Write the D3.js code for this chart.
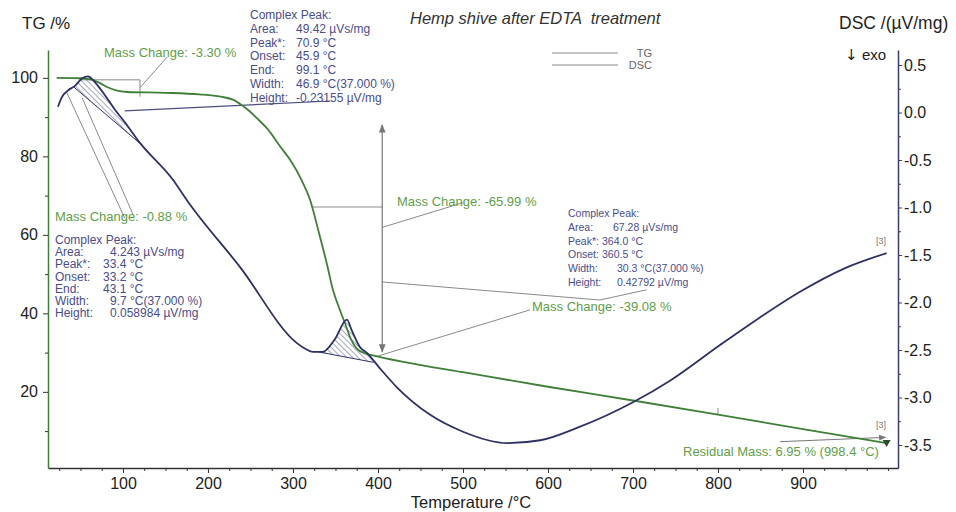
<!DOCTYPE html>
<html><head><meta charset="utf-8">
<script src="https://cdn.jsdelivr.net/npm/d3@7"></script>
<style>
body{margin:0;background:#fff}
svg{display:block;font-family:"Liberation Sans",Arial,sans-serif}
</style>
</head><body>
<svg id="c" width="956" height="512"></svg>
<script>
// ---------- data ----------
const tgTemps  = [22, 50, 62, 72, 82, 92, 105, 150, 190, 215, 230, 240, 250, 260, 270, 285, 297, 310, 320, 330, 340, 347, 355, 361, 368, 375, 385, 400, 449, 500, 600, 700, 800, 900, 998.4];
const tgValues = [100, 99.9, 99.6, 98.8, 97.6, 96.8, 96.4, 96.2, 95.8, 95.2, 94.4, 93, 91.3, 89.2, 87, 82.5, 79, 74, 69, 61, 52.5, 46, 41, 37.6, 33.5, 31, 29.8, 29, 26.9, 25, 21.3, 17.8, 14.2, 10.5, 6.95];

const dscTemps  = [23.5, 28, 35, 43.5, 52, 59, 65, 70.6, 79, 90.6, 102, 120, 159, 175, 238, 305, 315, 323.5, 335, 349, 363.5, 369, 379, 387, 402, 422, 461, 500, 552, 591, 637, 700, 744, 802, 849, 896, 949, 998.4];
const dscValues = [0.06, 0.16, 0.23, 0.28, 0.36, 0.38, 0.34, 0.28, 0.18, 0.03, -0.10, -0.32, -0.71, -0.92, -1.63, -2.43, -2.49, -2.52, -2.52, -2.39, -2.18, -2.29, -2.47, -2.53, -2.69, -2.89, -3.18, -3.36, -3.48, -3.45, -3.31, -3.05, -2.82, -2.45, -2.16, -1.89, -1.64, -1.48];

const xTicks   = [100, 200, 300, 400, 500, 600, 700, 800, 900];
const xMinor   = [25,50,75,125,150,175,225,250,275,325,350,375,425,450,475,525,550,575,625,650,675,725,750,775,825,850,875,925,950,975,1000];
const tgTicks  = [20, 40, 60, 80, 100];
const tgMinor  = [10, 30, 50, 70, 90];
const dscTicks = [0.5, 0.0, -0.5, -1.0, -1.5, -2.0, -2.5, -3.0, -3.5];
const dscMinor = [0.25, -0.25, -0.75, -1.25, -1.75, -2.25, -2.75, -3.25];

// peak baselines (T, µV/mg)
const peak1Base = [[42, 0.27], [122, -0.34]];
const peak2Base = [[330, -2.52], [395, -2.63]];

// evaluation guide lines (T, TG %)
const bracket1   = [[49, 99.5], [120, 99.5], [120, 95.2]];
const leader1    = [[120, 97.5], [152, 105.3]];
const heightLine = [[102, 91.6], [344, 94.1]];
const lowLeaderA = [[34, 96.2], [102, 64.3]];
const lowLeaderB = [[52, 94.9], [112, 65.1]];
const stepArrow  = [[405, 88], [405, 30.2]];
const midLine    = [[322, 67.1], [405, 67.1]];
const leader2    = [[405, 61.9], [500, 68.2]];
const leaderPeak = [[405, 48], [661, 43.4], [716, 46]];
const leader3    = [[396.5, 28.9], [579, 40.9]];
const leaderRes  = [[873, 7.3], [997, 8.4]];
const tgMark     = [[800, 14.2], [800, 15.9]];

const topPeakLabels = ["Complex Peak:", "Area:", "Peak*:", "Onset:", "End:", "Width:", "Height:"];
const topPeakValues = ["", "49.42 µVs/mg", "70.9 °C", "45.9 °C", "99.1 °C", "46.9 °C(37.000 %)", "-0.23155 µV/mg"];
const lowPeakLabels = ["Complex Peak:", "Area:", "Peak*:", "Onset:", "End:", "Width:", "Height:"];
const lowPeakValues = ["", "4.243 µVs/mg", "33.4 °C", "33.2 °C", "43.1 °C", "9.7 °C(37.000 %)", "0.058984 µV/mg"];
const midPeakLabels = ["Complex Peak:", "Area:", "Peak*:", "Onset:", "Width:", "Height:"];
const midPeakValues = ["", "67.28 µVs/mg", "364.0 °C", "360.5 °C", "30.3 °C(37.000 %)", "0.42792 µV/mg"];

// ---------- drawing ----------
const svg = d3.select("#c");
const GREEN = "#3f7f37", GREEN_TXT = "#5f9e48", NAVY = "#2e3162", NAVY_TXT = "#4a4d88", GRAY = "#8a8a8a";

const x    = d3.scaleLinear().domain([11.8, 1011.8]).range([48, 898]);
const yTG  = d3.scaleLinear().domain([0.6, 107.1]).range([468, 50]);
const yDSC = d3.scaleLinear().domain([-3.742, 0.658]).range([468, 50]);

const defs = svg.append("defs");
const pat = defs.append("pattern").attr("id", "hatch").attr("patternUnits", "userSpaceOnUse")
  .attr("width", 4).attr("height", 4).attr("patternTransform", "rotate(-45)");
pat.append("line").attr("x1", 0).attr("y1", 0).attr("x2", 0).attr("y2", 4)
  .attr("stroke", "#4a4f8c").attr("stroke-width", 1);
function marker(id, color) {
  defs.append("marker").attr("id", id).attr("viewBox", "0 0 10 10").attr("refX", 9).attr("refY", 5)
    .attr("markerWidth", 7).attr("markerHeight", 7).attr("orient", "auto-start-reverse")
    .append("path").attr("d", "M0,1L10,5L0,9z").attr("fill", color);
}
marker("arr", "#777");

// axes
function styleAxis(g, color) {
  g.selectAll("text").attr("font-size", 16).attr("fill", "#222").attr("font-family", "Liberation Sans, Arial, sans-serif");
  g.selectAll("line").attr("stroke", color);
  g.select(".domain").attr("stroke", color).attr("stroke-width", 1.5);
}
const gx = svg.append("g").attr("transform", "translate(0,468)")
  .call(d3.axisBottom(x).tickValues(xTicks).tickSize(5).tickSizeOuter(0).tickPadding(5).tickFormat(d => d));
styleAxis(gx, "#333");
const gxm = svg.append("g").attr("transform", "translate(0,468)")
  .call(d3.axisBottom(x).tickValues(xMinor).tickSize(3).tickSizeOuter(0).tickFormat(""));
gxm.select(".domain").remove(); gxm.selectAll("line").attr("stroke", "#333");

const gl = svg.append("g").attr("transform", "translate(48,0)")
  .call(d3.axisLeft(yTG).tickValues(tgTicks).tickSize(5).tickSizeOuter(0).tickPadding(5).tickFormat(d => d));
styleAxis(gl, GREEN);
gl.selectAll(".tick line").attr("stroke", "#333");
const glm = svg.append("g").attr("transform", "translate(48,0)")
  .call(d3.axisLeft(yTG).tickValues(tgMinor).tickSize(3).tickFormat(""));
glm.select(".domain").remove(); glm.selectAll("line").attr("stroke", "#333");

const gr = svg.append("g").attr("transform", "translate(898,0)")
  .call(d3.axisRight(yDSC).tickValues(dscTicks).tickSize(4).tickSizeOuter(0).tickPadding(2).tickFormat(d => d.toFixed(1)));
styleAxis(gr, "#3a3d6e");
const grm = svg.append("g").attr("transform", "translate(898,0)")
  .call(d3.axisRight(yDSC).tickValues(dscMinor).tickSize(3).tickFormat(""));
grm.select(".domain").remove(); grm.selectAll("line").attr("stroke", "#3a3d6e");

// hatched peak areas
function dscAt(t) {
  for (let i = 0; i < dscTemps.length - 1; i++) {
    if (t >= dscTemps[i] && t <= dscTemps[i + 1]) {
      const f = (t - dscTemps[i]) / (dscTemps[i + 1] - dscTemps[i]);
      return dscValues[i] + f * (dscValues[i + 1] - dscValues[i]);
    }
  }
  return dscValues[dscValues.length - 1];
}
function hatch(base) {
  const [t0, v0] = base[0], [t1, v1] = base[1];
  const bl = t => v0 + (v1 - v0) * (t - t0) / (t1 - t0);
  const ts = d3.range(t0, t1, 0.5).concat([t1]);
  svg.append("path").datum(ts)
    .attr("d", d3.area().x(t => x(t)).y0(t => yDSC(bl(t))).y1(t => yDSC(Math.max(dscAt(t), bl(t)))))
    .attr("fill", "url(#hatch)");
  svg.append("path").datum(base)
    .attr("d", d3.line().x(d => x(d[0])).y(d => yDSC(d[1])))
    .attr("stroke", NAVY).attr("stroke-width", 1).attr("fill", "none");
}
hatch(peak1Base);
hatch(peak2Base);

// guide lines
const gline = d3.line().x(d => x(d[0])).y(d => yTG(d[1]));
[bracket1, leader1, lowLeaderA, lowLeaderB, midLine, leader2, leaderPeak, leader3, tgMark].forEach(p =>
  svg.append("path").attr("d", gline(p)).attr("stroke", GRAY).attr("stroke-width", 1).attr("fill", "none"));
svg.append("path").attr("d", gline(heightLine)).attr("stroke", "#4b4e7e").attr("stroke-width", 1.2).attr("fill", "none");
svg.append("path").attr("d", gline(stepArrow)).attr("stroke", "#777").attr("stroke-width", 1.2).attr("fill", "none")
  .attr("marker-start", "url(#arr)").attr("marker-end", "url(#arr)");
svg.append("path").attr("d", gline(leaderRes)).attr("stroke", "#777").attr("stroke-width", 1).attr("fill", "none")
  .attr("marker-end", "url(#arr)");

// curves
const tgData  = d3.zip(tgTemps, tgValues);
const dscData = d3.zip(dscTemps, dscValues);
svg.append("path").datum(tgData)
  .attr("d", d3.line().x(d => x(d[0])).y(d => yTG(d[1])).curve(d3.curveMonotoneX))
  .attr("stroke", GREEN).attr("stroke-width", 1.8).attr("fill", "none");
svg.append("path").datum(dscData)
  .attr("d", d3.line().x(d => x(d[0])).y(d => yDSC(d[1])).curve(d3.curveMonotoneX))
  .attr("stroke", NAVY).attr("stroke-width", 1.8).attr("fill", "none");
// end marker on TG
const last = tgData[tgData.length - 1];
svg.append("path").attr("transform", `translate(${x(last[0])},${yTG(last[1])})`)
  .attr("d", "M-4,-3L4,-3L0,4z").attr("fill", "#2f4a2f");

// texts
function block(labels, values, lx, vx, y0, dy, size) {
  labels.forEach((l, i) => {
    svg.append("text").attr("x", lx).attr("y", y0 + i * dy).attr("font-size", size).attr("fill", NAVY_TXT).text(l);
    if (values[i]) svg.append("text").attr("x", vx[i]).attr("y", y0 + i * dy).attr("font-size", size).attr("fill", NAVY_TXT).text(values[i]);
  });
}
block(topPeakLabels, topPeakValues, 250, [0, 296, 296, 296, 296, 296, 296], 19, 13.8, 12);
block(lowPeakLabels, lowPeakValues, 55, [0, 110, 103, 103, 103, 110, 110], 244, 12.2, 12);
block(midPeakLabels, midPeakValues, 568, [0, 613, 602, 602, 617, 617], 217, 13.8, 10.5);

function gtext(t, xx, yy) {
  svg.append("text").attr("x", xx).attr("y", yy).attr("font-size", 13).attr("fill", GREEN_TXT).text(t);
}
gtext("Mass Change: -3.30 %", 104, 57);
gtext("Mass Change: -0.88 %", 55, 221);
gtext("Mass Change: -65.99 %", 397, 206);
gtext("Mass Change: -39.08 %", 532, 311);
gtext("Residual Mass: 6.95 % (998.4 °C)", 683, 456);

svg.append("text").attr("x", 876).attr("y", 244).attr("font-size", 9).attr("fill", "#777").text("[3]");
svg.append("text").attr("x", 876).attr("y", 428).attr("font-size", 9).attr("fill", "#777").text("[3]");

// legend
svg.append("line").attr("x1", 552).attr("x2", 618).attr("y1", 53).attr("y2", 53).attr("stroke", GRAY).attr("stroke-width", 1.2);
svg.append("line").attr("x1", 552).attr("x2", 618).attr("y1", 65).attr("y2", 65).attr("stroke", GRAY).attr("stroke-width", 1.2);
svg.append("text").attr("x", 652).attr("y", 57).attr("text-anchor", "end").attr("font-size", 11).attr("fill", "#666").text("TG");
svg.append("text").attr("x", 652).attr("y", 69).attr("text-anchor", "end").attr("font-size", 11).attr("fill", "#666").text("DSC");

// titles
svg.append("text").attr("x", 410).attr("y", 24).attr("font-size", 16.5).attr("font-style", "italic").attr("fill", "#333")
  .style("white-space", "pre").text("Hemp shive after EDTA  treatment");
svg.append("text").attr("x", 22).attr("y", 29).attr("font-size", 17).attr("fill", "#222").text("TG /%");
svg.append("text").attr("x", 839).attr("y", 29).attr("font-size", 17.5).attr("fill", "#222").text("DSC /(µV/mg)");
svg.append("text").attr("x", 845).attr("y", 60).attr("font-size", 15).attr("fill", "#222")
  .attr("font-family", "DejaVu Sans, sans-serif").text("↓");
svg.append("text").attr("x", 862).attr("y", 60).attr("font-size", 15).attr("fill", "#222").text("exo");
svg.append("text").attr("x", 471).attr("y", 508).attr("font-size", 16.5).attr("text-anchor", "middle").attr("fill", "#222").text("Temperature /°C");
</script>
</body></html>
